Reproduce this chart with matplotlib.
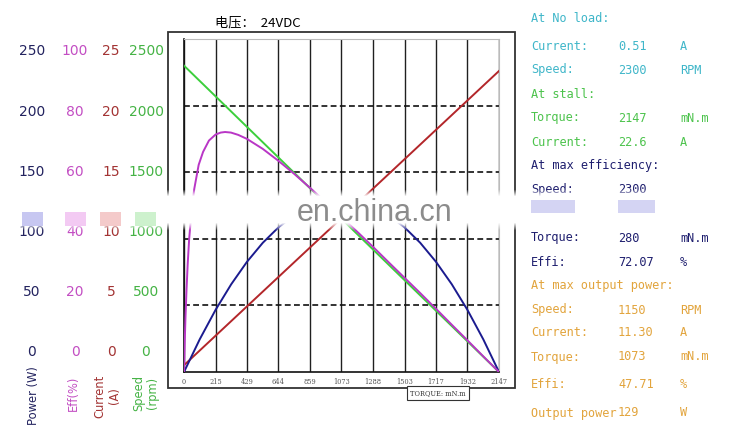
import matplotlib
matplotlib.use('Agg')
import matplotlib.pyplot as plt
import numpy as np
from matplotlib.patches import Rectangle

# torque axis (mN.m)
torque_ticks = [0, 215, 429, 644, 859, 1073, 1288, 1503, 1717, 1932, 2147]

# speed and current are straight lines between no-load and stall
speed_torque = [0, 2147]
speed_rpm = [2300, 0]
current_torque = [0, 2147]
current_a = [0.51, 22.6]

# efficiency curve
eff_torque = [0, 5, 10, 17, 25, 35, 50, 70, 100, 130, 170, 215, 250, 280, 320, 370, 429,
              537, 644, 751, 859, 966, 1073, 1181, 1288, 1396, 1503, 1610, 1717, 1825,
              1932, 2040, 2147]
eff_pct = [0, 8.9, 16.3, 24.5, 32.3, 39.8, 47.8, 55.0, 62.2, 66.1, 69.5, 71.3, 71.9, 72.07,
           71.9, 71.2, 70.0, 67.0, 63.4, 59.5, 55.3, 51.0, 46.6, 42.1, 37.6, 32.9, 28.3,
           23.7, 19.0, 14.2, 9.5, 4.7, 0]

# output power curve
power_torque = [0, 107, 215, 322, 429, 537, 644, 751, 859, 966, 1073,
                1181, 1288, 1396, 1503, 1610, 1717, 1825, 1932, 2040, 2147]
power_w = [0, 24.5, 46.6, 65.9, 82.7, 97.0, 108.6, 117.6, 124.1, 128.0, 129.3,
           128.0, 124.1, 117.6, 108.6, 97.0, 82.8, 65.9, 46.6, 24.5, 0]

# left scale labels
power_labels = ['250', '200', '150', '100', '50', '0']
eff_labels = ['100', '80', '60', '40', '20', '0']
current_labels = ['25', '20', '15', '10', '5', '0']
speed_labels = ['2500', '2000', '1500', '1000', '500', '0']

# right side spec block: (text, value, unit, colour, y pixel)
CYAN = '#3fb6c9'
GREEN = '#4cc34c'
NAVY = '#1e1e6e'
ORANGE = '#e2a43c'
spec_rows = [
    ('At No load:', '', '', CYAN, 18),
    ('Current:', '0.51', 'A', CYAN, 46),
    ('Speed:', '2300', 'RPM', CYAN, 70),
    ('At stall:', '', '', GREEN, 94),
    ('Torque:', '2147', 'mN.m', GREEN, 118),
    ('Current:', '22.6', 'A', GREEN, 142),
    ('At max efficiency:', '', '', NAVY, 166),
    ('Speed:', '2300', '', NAVY, 190),
    ('Torque:', '280', 'mN.m', NAVY, 238),
    ('Effi:', '72.07', '%', NAVY, 262),
    ('At max output power:', '', '', ORANGE, 286),
    ('Speed:', '1150', 'RPM', ORANGE, 310),
    ('Current:', '11.30', 'A', ORANGE, 333),
    ('Torque:', '1073', 'mN.m', ORANGE, 357),
    ('Effi:', '47.71', '%', ORANGE, 384),
    ('Output power', '129', 'W', ORANGE, 413),
]

C_POWER = '#1b1b8f'
C_EFF = '#b936c6'
C_CUR = '#b3262a'
C_SPD = '#3ccf3c'

W, H = 750, 445


def fx(px):
    return px / W


def fy(py):
    return 1 - py / H


def main():
    fig = plt.figure(figsize=(7.5, 4.45), dpi=100)
    fig.patch.set_facecolor('white')

    rect = [fx(184), fy(372), (499 - 184) / W, (372 - 39) / H]
    ax = fig.add_axes(rect)
    ax.set_xlim(0, 2147)
    ax.set_ylim(0, 2500)
    ax.set_xticks(torque_ticks)
    ax.set_xticklabels([str(t) for t in torque_ticks])
    ax.set_yticks([500, 1000, 1500, 2000])
    ax.set_yticklabels([])
    ax.tick_params(axis='x', length=0, labelsize=4.8, colors='#555555', pad=4)
    for lab in ax.get_xticklabels():
        lab.set_family('DejaVu Serif')
    ax.tick_params(axis='y', length=0)
    ax.xaxis.grid(True, color='#202020', lw=1.0)
    ax.yaxis.grid(True, color='#111111', lw=1.2, ls=(0, (3.5, 2)))
    ax.set_axisbelow(True)
    for side in ['left', 'bottom']:
        ax.spines[side].set_color('#111111')
        ax.spines[side].set_linewidth(1.2)
    for side in ['top', 'right']:
        ax.spines[side].set_color('#bbbbbb')
        ax.spines[side].set_linewidth(0.8)

    ax.plot(speed_torque, speed_rpm, color=C_SPD, lw=1.4, zorder=3)

    ax_cur = fig.add_axes(rect, sharex=ax)
    ax_cur.set_ylim(0, 25)
    ax_cur.set_axis_off()
    ax_cur.plot(current_torque, current_a, color=C_CUR, lw=1.4)

    ax_pow = fig.add_axes(rect, sharex=ax)
    ax_pow.set_ylim(0, 250)
    ax_pow.set_axis_off()
    ax_pow.plot(power_torque, power_w, color=C_POWER, lw=1.4)

    ax_eff = fig.add_axes(rect, sharex=ax)
    ax_eff.set_ylim(0, 100)
    ax_eff.set_axis_off()
    ax_eff.plot(eff_torque, eff_pct, color=C_EFF, lw=1.4)

    # outer frame and axis name box
    fig.patches.append(Rectangle((fx(168), fy(388)), (515 - 168) / W, (388 - 32) / H,
                                 transform=fig.transFigure, fill=False,
                                 ec='#333333', lw=1.3, zorder=1))
    fig.text(fx(438), fy(393), 'TORQUE: mN.m', fontsize=4.8, family='DejaVu Serif',
             color='#333333', ha='center', va='center',
             bbox=dict(boxstyle='square,pad=0.45', fc='white', ec='#333333', lw=0.8))

    fig.text(fx(215), fy(23), '电压：  24VDC', fontsize=9.5,
             family=['Noto Sans CJK SC', 'DejaVu Sans'], va='center', ha='left')

    # left scale columns
    rows_y = [51, 112, 172, 232, 292, 352]
    cols = [(32, power_labels, '#23235f'), (75, eff_labels, '#c34ec3'),
            (111, current_labels, '#a33434'), (146, speed_labels, '#45b345')]
    for x, labels, col in cols:
        for y, lab in zip(rows_y, labels):
            fig.text(fx(x), fy(y), lab, fontsize=10, color=col, ha='center', va='center')

    fig.text(fx(33), fy(396), 'Power (W)', rotation=90, fontsize=8.3, color='#23235f',
             ha='center', va='center')
    fig.text(fx(73), fy(393), 'Eff(%)', rotation=90, fontsize=8.3, color='#c34ec3',
             ha='center', va='center')
    fig.text(fx(107), fy(396), 'Current\n(A)', rotation=90, fontsize=8.3, color='#a33434',
             ha='center', va='center', multialignment='center', linespacing=1.1)
    fig.text(fx(146), fy(393), 'Speed\n(rpm)', rotation=90, fontsize=8.3, color='#45b345',
             ha='center', va='center', multialignment='center', linespacing=1.1)

    # right spec block
    for label, val, unit, col, y in spec_rows:
        kw = dict(fontsize=8.6, family='DejaVu Sans Mono', color=col, va='center')
        fig.text(fx(531), fy(y), label, **kw)
        if val:
            fig.text(fx(618), fy(y), val, **kw)
        if unit:
            fig.text(fx(680), fy(y), unit, **kw)

    # watermark band (pixel rows 189..231, top to bottom)
    band = fig.add_axes([0, fy(231), 1, 42 / H], zorder=5)
    band.set_axis_off()
    rows = np.arange(189, 232)
    alpha = np.clip(np.minimum((rows - 189) / 7.0, (231 - rows) / 8.0), 0, 1)
    img = np.ones((len(rows), 2, 4))
    img[:, :, 3] = alpha[:, None]
    band.imshow(img, aspect='auto', extent=[0, 1, 0, 1], interpolation='bilinear')
    band.set_xlim(0, 1)
    band.set_ylim(0, 1)

    def by(py):
        return (231 - py) / 42

    for x, col in [(32, '#9a9ae6'), (75, '#ea9fea'), (111, '#eba0a0'), (146, '#a4e6a4')]:
        band.add_patch(Rectangle((fx(x) - 0.014, by(226)), 0.028, 14 / 42, fc=col,
                                 ec='none', alpha=0.55))
    for x, w in [(531, 44), (618, 37)]:
        band.add_patch(Rectangle((fx(x), by(213)), w / W, 13 / 42, fc='#b8b8ec',
                                 ec='none', alpha=0.6))
    band.text(0.5, by(213), 'en.china.cn', fontsize=22, family='Liberation Sans',
              color='#8c8c8c', ha='center', va='center')

    fig.savefig('out.png', dpi=100)


if __name__ == '__main__':
    main()
